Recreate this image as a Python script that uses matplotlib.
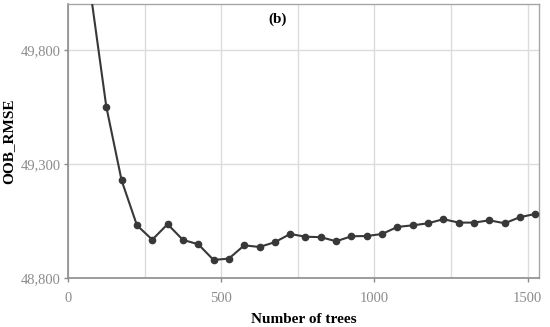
import matplotlib
matplotlib.use('Agg')
import matplotlib.pyplot as plt
from matplotlib import rcParams
from matplotlib.ticker import FuncFormatter

rcParams['font.family'] = 'serif'
rcParams['font.serif'] = ['Liberation Serif', 'DejaVu Serif']

# Number of trees vs out-of-bag RMSE
trees = [25, 75, 125, 175, 225, 275, 325, 375, 425, 475, 525, 575, 625, 675,
         725, 775, 825, 875, 925, 975, 1025, 1075, 1125, 1175, 1225, 1275,
         1325, 1375, 1425, 1475, 1525]
oob_rmse = [51500, 50040, 49551, 49227, 49030, 48967, 49035, 48966, 48947,
            48878, 48884, 48942, 48935, 48956, 48992, 48980, 48978, 48960,
            48982, 48983, 48992, 49023, 49030, 49039, 49057, 49042, 49042,
            49052, 49039, 49066, 49080]
x_ticks = [0, 500, 1000, 1500]
y_ticks = [48800, 49300, 49800]

fig = plt.figure(figsize=(5.5, 3.27), dpi=100)
ax = fig.add_axes([68 / 550, 1 - 277.7 / 327, (539 - 68) / 550, (277.7 - 4) / 327])

ax.plot(trees, oob_rmse, color='#383838', linewidth=1.5, marker='o',
        markersize=4.5, zorder=3)

ax.set_xlim(0, 1537)
ax.set_ylim(48800, 50002)
ax.set_xticks(x_ticks)
ax.set_xticks([250, 750, 1250], minor=True)
ax.set_yticks(y_ticks)
ax.yaxis.set_major_formatter(FuncFormatter(lambda v, p: f'{int(v):,}'))

ax.grid(True, which='both', axis='x', color='#dcdcdc', linewidth=1)
ax.grid(True, axis='y', color='#dcdcdc', linewidth=1)
ax.set_axisbelow(True)

for side in ['left', 'bottom']:
    ax.spines[side].set_color('#8c8c8c')
    ax.spines[side].set_linewidth(1.2)
for side in ['top', 'right']:
    ax.spines[side].set_color('#a6a6a6')
    ax.spines[side].set_linewidth(1.0)

ax.tick_params(which='major', length=3, width=1, color='#8c8c8c',
               labelcolor='#8c8c8c', labelsize=10.5)
ax.tick_params(axis='x', pad=7)
ax.tick_params(axis='y', pad=2)
ax.tick_params(which='minor', length=0)

ax.set_xlabel('Number of trees', fontweight='bold', fontsize=11, labelpad=6)
ax.set_ylabel('OOB_RMSE', fontweight='bold', fontsize=11, labelpad=4)

ax.text(683, 49933, '(b)', fontweight='bold', fontsize=11,
        ha='center', va='center')

fig.savefig('out.png', dpi=100)
